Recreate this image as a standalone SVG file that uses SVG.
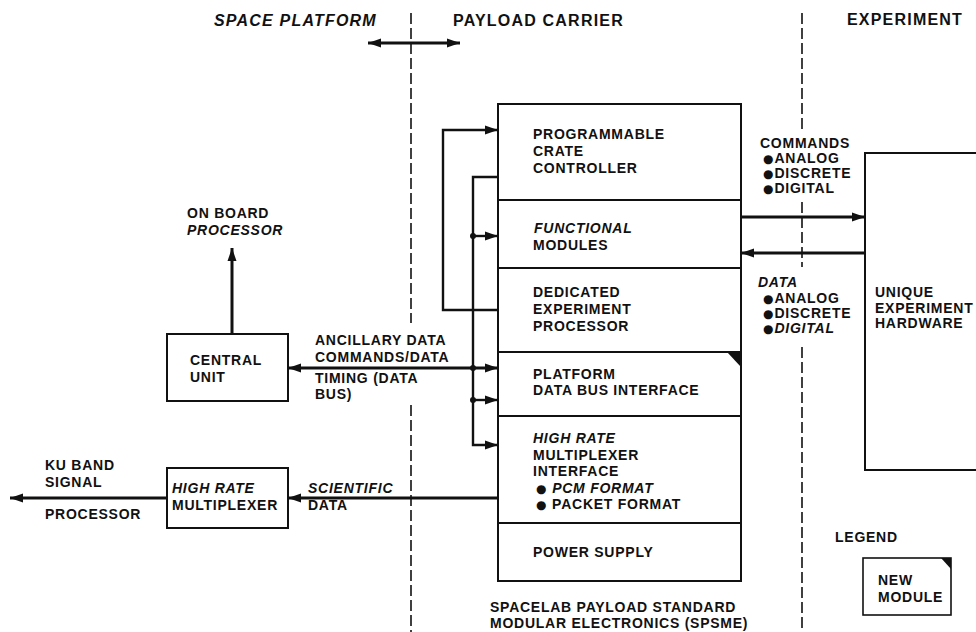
<svg xmlns="http://www.w3.org/2000/svg" width="976" height="632" viewBox="0 0 976 632">
<defs>
<marker id="ah" markerUnits="userSpaceOnUse" markerWidth="14" markerHeight="10" refX="13" refY="5" orient="auto-start-reverse">
<path d="M0,0.5 L13,5 L0,9.5 z" fill="#111"/>
</marker>
<style>
text{font-family:"Liberation Sans",Arial,"DejaVu Sans",sans-serif;font-weight:bold;font-size:14px;letter-spacing:0.75px;fill:#111}
.big{font-size:16px;letter-spacing:1.2px}
.it{font-style:italic}
.b{font-family:"DejaVu Sans",sans-serif;font-size:12px;letter-spacing:1px}
.box{fill:#fff;stroke:#111;stroke-width:2}
.dash{fill:none;stroke:#111;stroke-width:1.6;stroke-dasharray:11 4}
.w{fill:none;stroke:#111;stroke-width:2.4}
.t{fill:none;stroke:#111;stroke-width:3}
.dot{fill:#111}
</style>
</defs>
<rect width="976" height="632" fill="#fff"/>

<g id="boundaries">
<path class="dash" d="M411,13 V323 M411,405 V632"/>
<path class="dash" d="M802,13 V130 M802,202 V267 M802,347 V632"/>
<text class="big it" x="214" y="26">SPACE PLATFORM</text>
<text class="big" x="453" y="26">PAYLOAD CARRIER</text>
<text class="big" x="847" y="25">EXPERIMENT</text>
</g>

<g id="spsme">
<rect class="box" x="498" y="104" width="243" height="477"/>
<path fill="none" stroke="#111" stroke-width="1.8" d="M498,200 H741 M498,268 H741 M498,352 H741 M498,416 H741 M498,523 H741"/>
<path d="M727,352 H741 V367 z" fill="#111"/>
<text x="533" y="139">PROGRAMMABLE</text>
<text x="533" y="156">CRATE</text>
<text x="533" y="173">CONTROLLER</text>
<text class="it" x="534" y="233">FUNCTIONAL</text>
<text x="533" y="250">MODULES</text>
<text x="533" y="297">DEDICATED</text>
<text x="533" y="314">EXPERIMENT</text>
<text x="533" y="331">PROCESSOR</text>
<text x="533" y="379">PLATFORM</text>
<text x="533" y="395">DATA BUS INTERFACE</text>
<text class="it" x="533" y="443">HIGH RATE</text>
<text x="533" y="460">MULTIPLEXER</text>
<text x="533" y="476">INTERFACE</text>
<text x="536" y="493"><tspan class="b">●</tspan> <tspan class="it">PCM FORMAT</tspan></text>
<text x="536" y="509"><tspan class="b">●</tspan> PACKET FORMAT</text>
<text x="533" y="557">POWER SUPPLY</text>
<text x="490" y="612">SPACELAB PAYLOAD STANDARD</text>
<text x="490" y="628">MODULAR ELECTRONICS (SPSME)</text>
</g>

<g id="central-unit">
<rect class="box" x="167" y="334" width="121" height="67"/>
<text x="190" y="365">CENTRAL</text>
<text x="190" y="382">UNIT</text>
</g>

<g id="high-rate-mux">
<rect class="box" x="167" y="468" width="121" height="60"/>
<text class="it" x="172" y="493">HIGH RATE</text>
<text x="172" y="510">MULTIPLEXER</text>
</g>

<g id="unique-hw">
<path class="box" d="M980,153 H865 V470 H980"/>
<text x="875" y="297">UNIQUE</text>
<text x="875" y="313">EXPERIMENT</text>
<text x="875" y="328">HARDWARE</text>
</g>

<g id="legend">
<text x="835" y="542">LEGEND</text>
<rect x="863" y="558" width="88" height="57" fill="#fff" stroke="#111" stroke-width="1.6"/>
<path d="M941,558 H951 V569 z" fill="#111"/>
<text x="878" y="585">NEW</text>
<text x="878" y="602">MODULE</text>
</g>

<g id="labels">
<text x="187" y="218">ON BOARD</text>
<text class="it" x="187" y="235">PROCESSOR</text>
<text x="315" y="345">ANCILLARY DATA</text>
<text x="315" y="362">COMMANDS/DATA</text>
<text x="315" y="383">TIMING (DATA</text>
<text x="315" y="399">BUS)</text>
<text x="45" y="470">KU BAND</text>
<text x="45" y="487">SIGNAL</text>
<text x="45" y="519">PROCESSOR</text>
<text class="it" x="308" y="493">SCIENTIFIC</text>
<text x="308" y="510">DATA</text>
<text x="760" y="148">COMMANDS</text>
<text x="763" y="163"><tspan class="b">●</tspan>ANALOG</text>
<text x="763" y="178"><tspan class="b">●</tspan>DISCRETE</text>
<text x="763" y="193"><tspan class="b">●</tspan>DIGITAL</text>
<text class="it" x="758" y="287">DATA</text>
<text x="763" y="303"><tspan class="b">●</tspan>ANALOG</text>
<text x="763" y="318"><tspan class="b">●</tspan>DISCRETE</text>
<text x="763" y="333"><tspan class="b">●</tspan><tspan class="it">DIGITAL</tspan></text>
</g>

<g id="connectors">
<path class="t" d="M368,43 H460" marker-start="url(#ah)" marker-end="url(#ah)"/>
<path class="w" d="M498,310 H443 V130 H498" marker-end="url(#ah)"/>
<path class="w" d="M498,177 H473 V445 H498" marker-end="url(#ah)"/>
<path class="w" d="M473,236 H498" marker-end="url(#ah)"/>
<path class="w" d="M473,400 H498" marker-end="url(#ah)"/>
<path class="t" d="M288,368 H498" marker-start="url(#ah)" marker-end="url(#ah)"/>
<circle class="dot" cx="473" cy="236" r="3"/>
<circle class="dot" cx="473" cy="368" r="3"/>
<circle class="dot" cx="473" cy="400" r="3"/>
<path class="t" d="M232,334 V248" marker-end="url(#ah)"/>
<path class="t" d="M498,498 H288" marker-end="url(#ah)"/>
<path class="t" d="M167,498 H10" marker-end="url(#ah)"/>
<path class="t" d="M741,217 H865" marker-end="url(#ah)"/>
<path class="t" d="M865,253 H741" marker-end="url(#ah)"/>
</g>
</svg>
